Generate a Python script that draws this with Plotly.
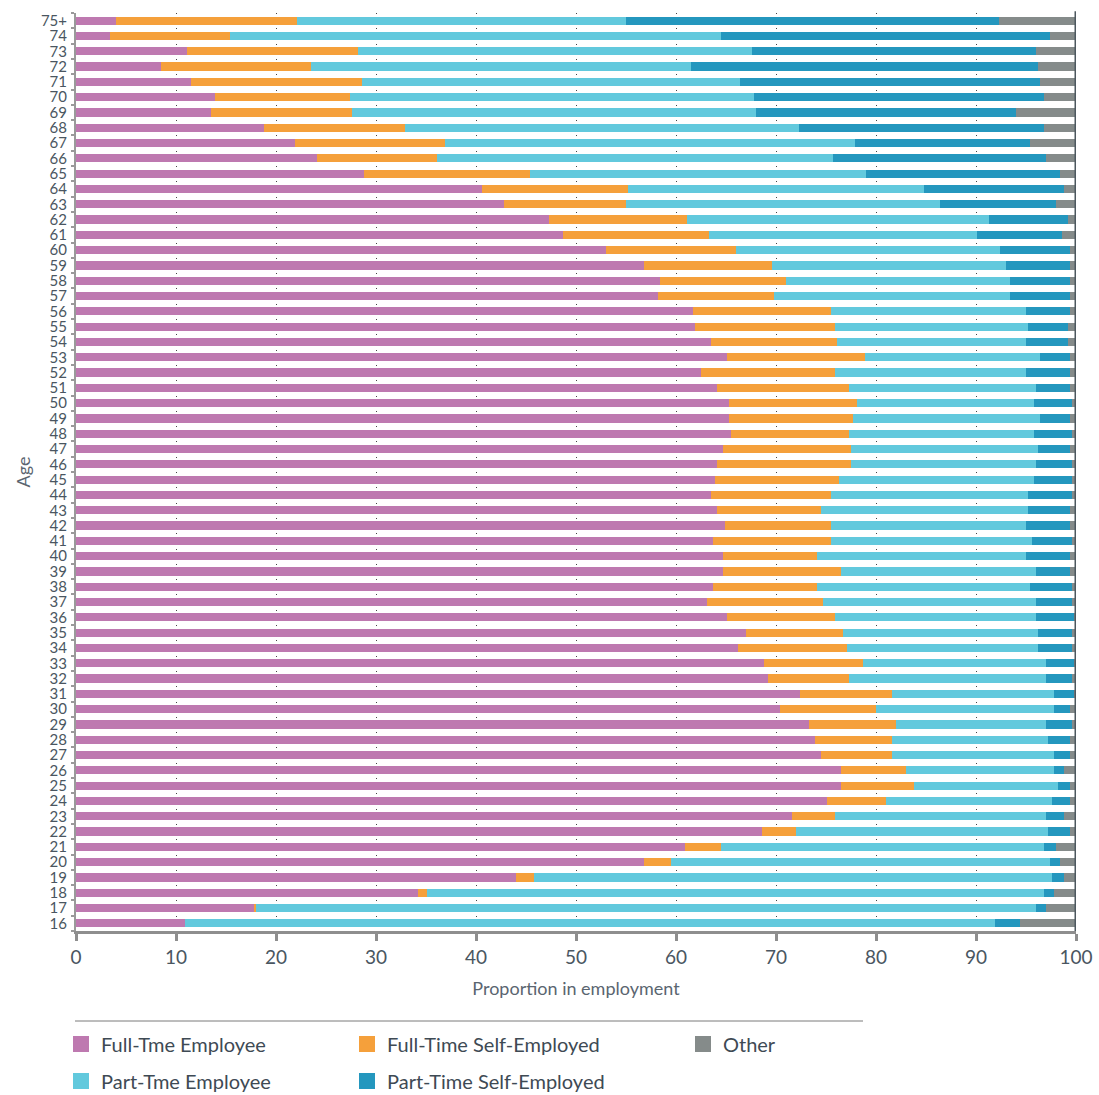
import plotly.graph_objects as go

ages = [str(a) for a in range(16, 75)] + ["75+"]

full_time_employee = [10.9, 17.8, 34.2, 44.0, 56.8, 60.9, 68.6, 71.6, 75.1, 76.5,
                      76.5, 74.5, 73.9, 73.3, 70.4, 72.4, 69.2, 68.8, 66.2, 67.0,
                      65.1, 63.1, 63.7, 64.7, 64.7, 63.7, 64.9, 64.1, 63.5, 63.9,
                      64.1, 64.7, 65.5, 65.3, 65.3, 64.1, 62.5, 65.1, 63.5, 61.9,
                      61.7, 58.2, 58.4, 56.8, 53.0, 48.7, 47.3, 42.8, 40.6, 28.8,
                      24.1, 21.9, 18.8, 13.5, 13.9, 11.5, 8.5, 11.1, 3.4, 4.0]
full_time_self_employed = [0.0, 0.2, 0.9, 1.8, 2.7, 3.6, 3.4, 4.3, 5.9, 7.3,
                           6.5, 7.1, 7.7, 8.7, 9.6, 9.2, 8.1, 9.9, 10.9, 9.7,
                           10.8, 11.6, 10.4, 11.8, 9.4, 11.8, 10.6, 10.4, 12.0, 12.4,
                           13.4, 12.8, 11.8, 12.4, 12.8, 13.2, 13.4, 13.8, 12.6, 14.0,
                           13.8, 11.6, 12.6, 12.8, 13.0, 14.6, 13.8, 12.2, 14.6, 16.6,
                           12.0, 15.0, 14.1, 14.1, 13.5, 17.1, 15.0, 17.1, 12.0, 18.1]
part_time_employee = [81.0, 78.0, 61.7, 51.8, 37.9, 32.3, 25.2, 21.1, 16.6, 14.4,
                      14.8, 16.2, 15.6, 15.0, 17.8, 16.2, 19.7, 18.3, 19.1, 19.5,
                      20.1, 21.3, 21.3, 19.5, 20.9, 20.1, 19.5, 20.7, 19.7, 19.5,
                      18.5, 18.7, 18.5, 18.7, 17.7, 18.7, 19.1, 17.5, 18.9, 19.3,
                      19.5, 23.6, 22.4, 23.4, 26.4, 26.8, 30.2, 31.4, 29.6, 33.6,
                      39.6, 41.0, 39.4, 40.4, 40.4, 37.8, 38.0, 39.4, 49.1, 32.9]
part_time_self_employed = [2.5, 1.0, 1.0, 1.2, 1.0, 1.2, 2.2, 1.8, 1.8, 1.2,
                           1.0, 1.6, 2.2, 2.6, 1.6, 2.0, 2.6, 2.8, 3.4, 3.4,
                           3.8, 3.6, 4.2, 3.4, 4.4, 4.0, 4.4, 4.2, 4.4, 3.8,
                           3.6, 3.2, 3.8, 3.0, 3.8, 3.4, 4.4, 3.0, 4.2, 4.0,
                           4.4, 6.0, 6.0, 6.4, 7.0, 8.5, 7.9, 11.6, 14.0, 19.4,
                           21.3, 17.5, 24.5, 26.0, 29.0, 30.0, 34.7, 28.4, 32.9, 37.3]
other = [5.6, 3.0, 2.2, 1.2, 1.6, 2.0, 0.6, 1.2, 0.6, 0.6,
         1.2, 0.6, 0.6, 0.4, 0.6, 0.2, 0.4, 0.2, 0.4, 0.4,
         0.2, 0.4, 0.4, 0.6, 0.6, 0.4, 0.6, 0.6, 0.4, 0.4,
         0.4, 0.6, 0.4, 0.6, 0.4, 0.6, 0.6, 0.6, 0.8, 0.8,
         0.6, 0.6, 0.6, 0.6, 0.6, 1.4, 0.8, 2.0, 1.2, 1.6,
         3.0, 4.6, 3.2, 6.0, 3.2, 3.6, 3.8, 4.0, 2.6, 7.7]

x_ticks = [0, 10, 20, 30, 40, 50, 60, 70, 80, 90, 100]

series = [
    ("Full-Tme Employee", full_time_employee, "#BE79B0", "legend"),
    ("Full-Time Self-Employed", full_time_self_employed, "#F5A03B", "legend2"),
    ("Part-Tme Employee", part_time_employee, "#62C9DD", "legend4"),
    ("Part-Time Self-Employed", part_time_self_employed, "#2497BE", "legend5"),
    ("Other", other, "#858B8A", "legend3"),
]

FONT = "Lato, 'Open Sans', sans-serif"
TXT = "#4a5661"

fig = go.Figure()
for name, vals, color, lg in series:
    fig.add_trace(go.Bar(
        x=vals, y=ages, name=name, orientation="h",
        marker=dict(color=color, line=dict(width=0)),
        legendgroup=name, showlegend=False, hoverinfo="x+y+name",
    ))
# legend entries (square keys like the reference)
for name, vals, color, lg in series:
    fig.add_trace(go.Scatter(
        x=[None], y=[None], mode="markers", name=name, legendgroup=name,
        marker=dict(symbol="square", size=16, color=color, line=dict(width=0)),
        legend=lg, showlegend=True, hoverinfo="skip",
    ))

W, H = 1099, 1095
ml, mr, mt = 76, 23, 13
plot_h = 918
mb = H - mt - plot_h


def px_to_paper_x(px):
    return (px - ml) / (W - ml - mr)


def px_to_paper_y(py):
    return (mt + plot_h - py) / plot_h


legend_common = dict(
    orientation="v", bgcolor="rgba(0,0,0,0)", borderwidth=0,
    font=dict(family=FONT, size=20, color="#3e4a54"),
    xanchor="left", yanchor="middle", itemsizing="trace",
)
row1, row2 = 1044, 1081
col1, col2, col3 = 61, 347, 683

fig.update_layout(
    width=W, height=H,
    showlegend=True,
    margin=dict(l=ml, r=mr, t=mt, b=mb, autoexpand=False),
    paper_bgcolor="white", plot_bgcolor="white",
    barmode="stack", bargap=0.46,
    font=dict(family=FONT, color=TXT),
    legend=dict(**legend_common, visible=True, x=px_to_paper_x(col1), y=px_to_paper_y(row1)),
    legend2=dict(**legend_common, x=px_to_paper_x(col2), y=px_to_paper_y(row1)),
    legend3=dict(**legend_common, x=px_to_paper_x(col3), y=px_to_paper_y(row1)),
    legend4=dict(**legend_common, x=px_to_paper_x(col1), y=px_to_paper_y(row2)),
    legend5=dict(**legend_common, x=px_to_paper_x(col2), y=px_to_paper_y(row2)),
    xaxis=dict(
        range=[0, 100], tickmode="array", tickvals=x_ticks,
        showline=True, linecolor="#8e8e8e", linewidth=3,
        ticks="outside", ticklen=7, tickwidth=3, tickcolor="#8e8e8e",
        tickfont=dict(family=FONT, size=19, color=TXT),
        showgrid=True, gridcolor="#444444", gridwidth=1, griddash="1px,14.3px",
        zeroline=False,
        title=dict(text="Proportion in employment", standoff=16,
                   font=dict(family=FONT, size=18, color="#5a6570")),
    ),
    yaxis=dict(
        type="category", categoryorder="array", categoryarray=ages,
        tickmode="array", tickvals=ages, range=[-0.5, len(ages) - 0.5],
        showline=True, linecolor="#9a9a9a", linewidth=2,
        ticks="outside", ticklen=3, tickwidth=2, tickcolor="#9a9a9a",
        tickson="boundaries", ticklabelstandoff=4,
        tickfont=dict(family=FONT, size=15, color=TXT),
        showgrid=False, zeroline=False,
        title=dict(text="Age", standoff=6,
                   font=dict(family=FONT, size=18, color="#5a6570")),
    ),
    shapes=[
        dict(type="line", xref="x", yref="paper", x0=100, x1=100, y0=0, y1=1.002,
             line=dict(color="#4d585f", width=3)),
        dict(type="line", xref="paper", yref="paper",
             x0=px_to_paper_x(75), x1=px_to_paper_x(863),
             y0=px_to_paper_y(1021), y1=px_to_paper_y(1021),
             line=dict(color="#7a7a7a", width=1)),
    ],
)

fig.write_html("out.html", config={"displayModeBar": False},
               post_script="document.body.style.margin='0';")
